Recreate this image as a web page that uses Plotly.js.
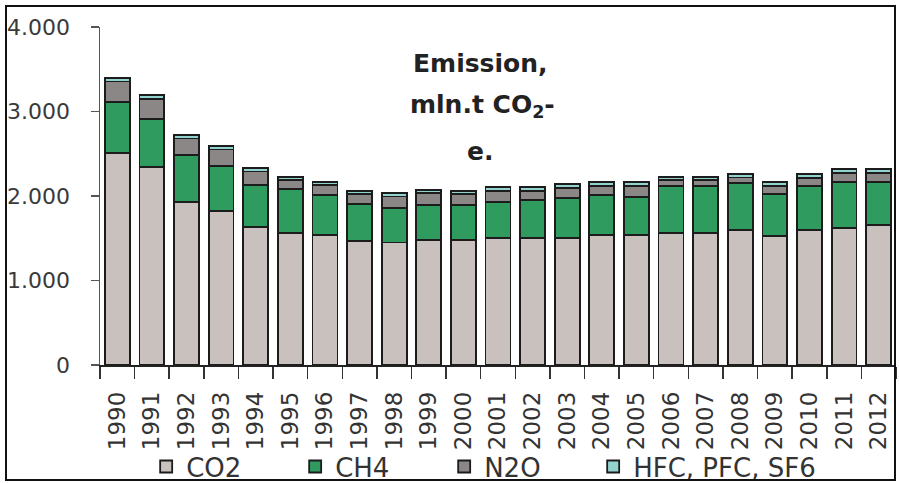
<!DOCTYPE html>
<html>
<head>
<meta charset="utf-8">
<script src="https://cdn.plot.ly/plotly-3.0.1.min.js"></script>
<style>
  html, body { margin: 0; padding: 0; background: #fff; }
  #wrap { position: relative; width: 899px; height: 483px; }
  #chart { width: 899px; height: 483px; }
  #frame { position: absolute; left: 5px; top: 5px; width: 891px; height: 476px;
           box-sizing: border-box; border: 2.5px solid #111; pointer-events: none; }
</style>
</head>
<body>
<div id="wrap"><div id="chart"></div><div id="frame"></div></div>
<script>
const years = ['1990','1991','1992','1993','1994','1995','1996','1997','1998','1999','2000','2001','2002','2003','2004','2005','2006','2007','2008','2009','2010','2011','2012'];
const co2 = [2510, 2347, 1933, 1826, 1637, 1566, 1538, 1471, 1450, 1479, 1479, 1507, 1507, 1507, 1538, 1538, 1566, 1566, 1598, 1527, 1598, 1625, 1657];
const ch4 = [606, 561, 552, 529, 493, 513, 474, 434, 405, 414, 414, 426, 446, 465, 474, 454, 552, 552, 552, 497, 520, 544, 505];
const n2o = [240, 240, 195, 195, 160, 115, 118, 123, 140, 138, 130, 130, 110, 122, 108, 125, 70, 68, 68, 95, 92, 102, 108];
const hfc = [37, 47, 42, 42, 38, 35, 36, 35, 40, 40, 40, 40, 40, 44, 42, 45, 41, 43, 42, 43, 47, 49, 50];
const seriesNames = ['CO2', 'CH4', 'N2O', 'HFC, PFC, SF6'];
const yTickVals = [0, 1000, 2000, 3000, 4000];
const yTickText = ['0', '1.000', '2.000', '3.000', '4.000'];

const colors = ['#c9c1bd', '#2f9b5f', '#8b8787', '#93d3cf'];
const seriesData = [co2, ch4, n2o, hfc];
const traces = seriesData.map((vals, i) => ({
  type: 'bar',
  name: seriesNames[i],
  x: years,
  y: vals,
  legendwidth: i === 3 ? 230 : 104,
  marker: { color: colors[i], line: { color: '#1c1c1c', width: 1.8 } },
  hoverinfo: 'skip'
}));

const F = 'DejaVu Sans, sans-serif';
const layout = {
  width: 899, height: 483,
  margin: { l: 100, r: 3, t: 27, b: 118 },
  paper_bgcolor: '#ffffff', plot_bgcolor: '#ffffff',
  barmode: 'stack',
  bargap: 0.28,
  showlegend: true,
  legend: {
    orientation: 'h', x: 0.058, xanchor: 'left', yref: 'container', y: 0.034, yanchor: 'middle',
    traceorder: 'normal', entrywidthmode: 'pixels',
    font: { family: F, size: 26, color: '#333' }, bgcolor: 'rgba(0,0,0,0)'
  },
  xaxis: {
    type: 'category', showgrid: false, zeroline: false,
    showline: true, linecolor: '#222', linewidth: 1.5,
    ticks: 'outside', tickson: 'boundaries', ticklen: 12, tickcolor: '#333', tickwidth: 1.5,
    tickangle: -90, ticklabelstandoff: 16,
    tickfont: { family: F, size: 23, color: '#333' }
  },
  yaxis: {
    range: [0, 4000], showgrid: false, zeroline: false,
    showline: true, linecolor: '#555', linewidth: 1.5,
    ticks: 'outside', ticklen: 8, tickcolor: '#555', tickwidth: 1.5,
    tickvals: yTickVals, ticktext: yTickText, ticklabelstandoff: 16,
    tickfont: { family: F, size: 22, color: '#3a3a3a' }
  },
  annotations: [
    { text: '<b>Emission,</b>', xref: 'paper', yref: 'paper', x: 0.478, y: 0.893, xanchor: 'center', yanchor: 'middle', showarrow: false, font: { family: F, size: 25, color: '#222' } },
    { text: '<b>mln.t CO<sub>2</sub>-</b>', xref: 'paper', yref: 'paper', x: 0.48, y: 0.765, xanchor: 'center', yanchor: 'middle', showarrow: false, font: { family: F, size: 25, color: '#222' } },
    { text: '<b>e.</b>', xref: 'paper', yref: 'paper', x: 0.477, y: 0.632, xanchor: 'center', yanchor: 'middle', showarrow: false, font: { family: F, size: 25, color: '#222' } }
  ]
};

Plotly.newPlot('chart', traces, layout, { displayModeBar: false, staticPlot: true });
</script>
</body>
</html>
